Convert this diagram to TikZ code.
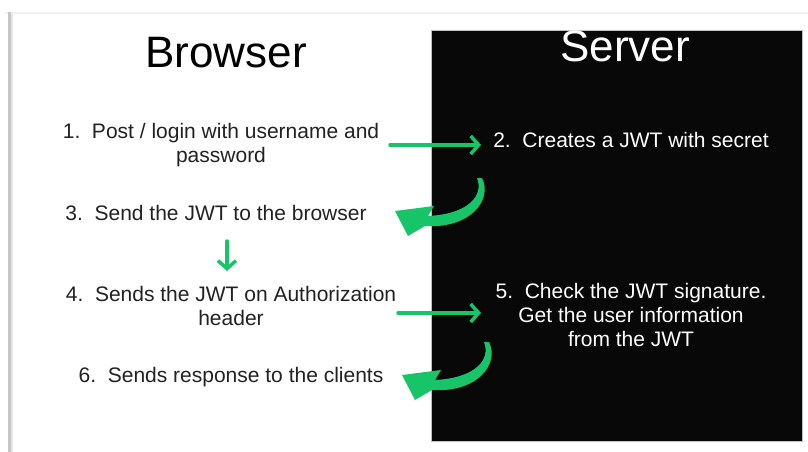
\documentclass[tikz,border=0pt]{standalone}
\usepackage{fontspec}
\setmainfont{Liberation Sans}
\usetikzlibrary{arrows.meta}
\definecolor{jwtgreen}{RGB}{24,196,104}
\definecolor{txt}{RGB}{34,34,34}
\tikzset{
  title/.style={font=\fontsize{44}{50}\selectfont, inner sep=0pt},
  steptext/.style={font=\fontsize{21}{24}\selectfont, text=txt, align=center, inner sep=0pt},
  flowarrow/.style={draw=jwtgreen, line width=3.5pt, line cap=round, -{Straight Barb[length=8pt,width=18pt,line width=3.5pt]}},
  turnarrow/.style={fill=jwtgreen}
}
\begin{document}
\begin{tikzpicture}[x=1pt,y=-1pt]
\useasboundingbox (0,0) rectangle (808,452);
\fill[white] (0,0) rectangle (808,452);
% card frame
\fill[gray!12] (5,12) rectangle (808,14);
\fill[gray!45] (8,12) rectangle (11,452);
\fill[gray!20] (11,14) rectangle (13,452);
% server panel
\fill[black!97] (431,31) rectangle (802,441);
\draw[gray!50, line width=1pt] (431,31) rectangle (802,441);

\node[title, text=black, anchor=base] (browser) at (226,67) {Browser};
\node[title, text=white, anchor=base] (server) at (625,62) {Server};

\node[steptext, anchor=base] (s1) at (221,162) {1.\ \ Post / login with username and\\password};
\node[steptext, text=white, anchor=base] (s2) at (631,147) {2.\ \ Creates a JWT with secret};
\node[steptext, anchor=base] (s3) at (216,220) {3.\ \ Send the JWT to the browser};
\node[steptext, anchor=base] (s4) at (231,325) {4.\ \ Sends the JWT on Authorization\\header};
\node[steptext, text=white, anchor=base] (s5) at (631,346) {5.\ \ Check the JWT signature.\\Get the user information\\from the JWT};
\node[steptext, anchor=base] (s6) at (231,382) {6.\ \ Sends response to the clients};

\coordinate (a1s) at (390,145);
\coordinate (a1e) at (481,145);
\coordinate (a2s) at (398,313);
\coordinate (a2e) at (481,313);
\coordinate (a3s) at (227,241);
\coordinate (a3e) at (227,271);
\draw[flowarrow] (a1s) -- (a1e);
\draw[flowarrow] (a2s) -- (a2e);
\draw[flowarrow] (a3s) -- (a3e);

% curved return arrows
\fill[turnarrow] (477,178) .. controls (484,196) and (468,214) .. (428,216) -- (434,206) -- (395,211) -- (408,236) -- (425,226) .. controls (470,229) and (493,200) .. (482,178) -- cycle;
\fill[turnarrow, shift={(7,164)}] (477,178) .. controls (484,196) and (468,214) .. (428,216) -- (434,206) -- (395,211) -- (408,236) -- (425,226) .. controls (470,229) and (493,200) .. (482,178) -- cycle;
\end{tikzpicture}
\end{document}
